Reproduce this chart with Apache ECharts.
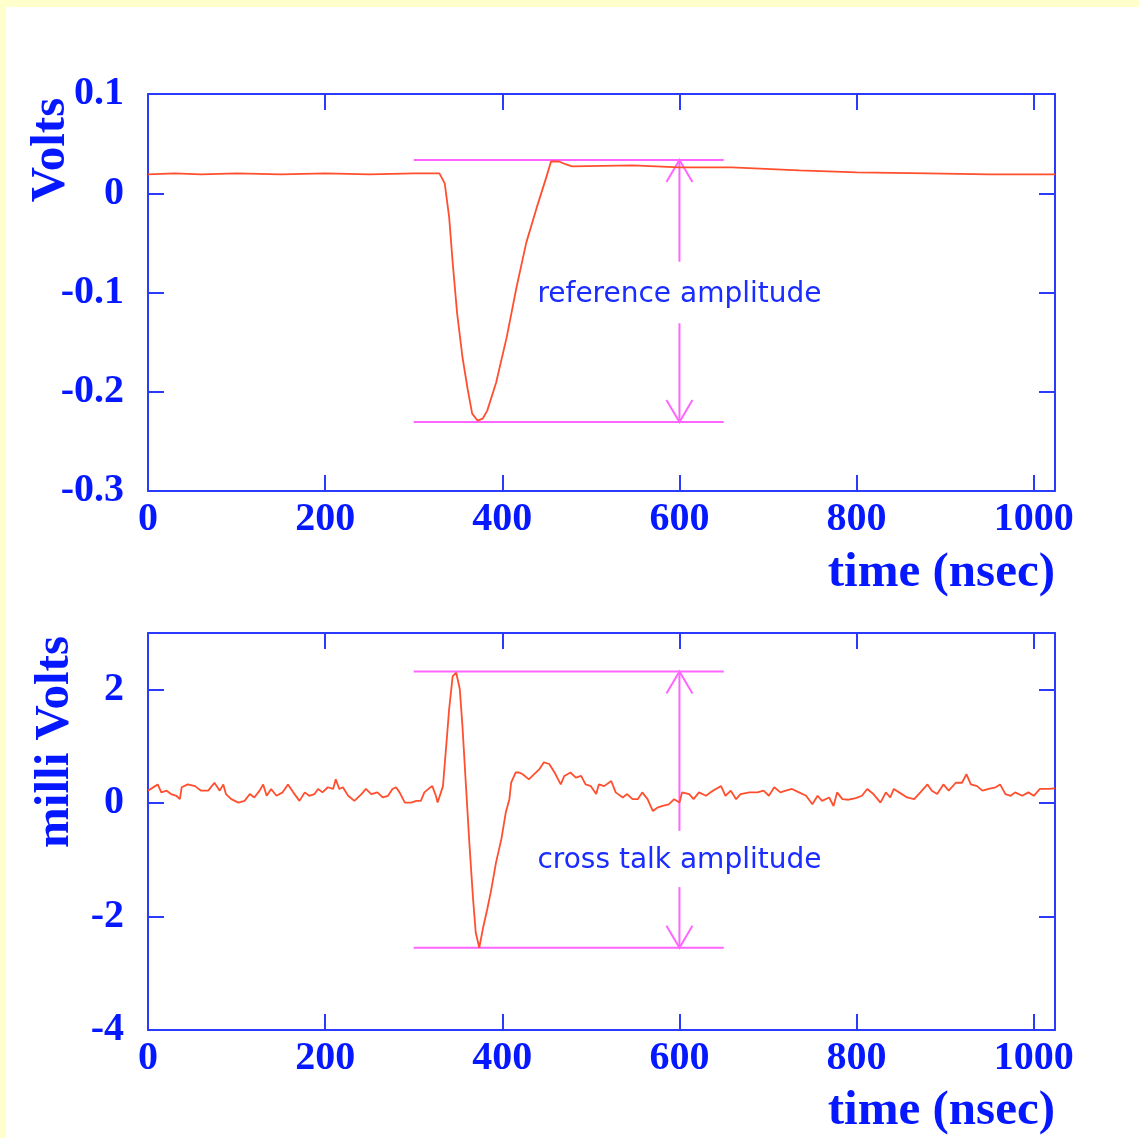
<!DOCTYPE html>
<html>
<head>
<meta charset="utf-8">
<script src="https://cdn.jsdelivr.net/npm/echarts@6/dist/echarts.min.js"></script>
<style>
html,body{margin:0;padding:0;background:#fff}
#chart{width:1139px;height:1138px}
</style>
</head>
<body>
<div id="chart"></div>
<script>
// reference pulse (Volts)
var refTime = [0, 30, 60, 100, 150, 200, 250, 300, 329, 335, 340, 344, 349, 355, 361, 366, 372, 378, 383, 393, 405, 416, 427, 439, 450, 455, 464, 472, 479, 547, 600, 659, 735, 800, 880, 950, 1024]
var refVolts = [0.019, 0.020, 0.019, 0.020, 0.019, 0.020, 0.019, 0.020, 0.020, 0.010, -0.024, -0.070, -0.121, -0.165, -0.198, -0.222, -0.229, -0.227, -0.219, -0.191, -0.145, -0.095, -0.050, -0.014, 0.017, 0.032, 0.032, 0.029, 0.027, 0.028, 0.026, 0.026, 0.023, 0.021, 0.020, 0.019, 0.019]

// cross talk (milli Volts)
var xtTime = [
  0, 8, 11, 15, 21, 26, 32, 36, 38, 45,
  53, 60, 68, 75, 81, 85, 88, 94, 102, 109,
  115, 120, 126, 130, 134, 139, 145, 152, 158, 164,
  171, 177, 182, 188, 192, 197, 203, 209, 212, 216,
  220, 226, 233, 241, 246, 252, 259, 265, 271, 276,
  280, 284, 290, 297, 303, 308, 312, 318, 321, 325,
  327, 333, 337, 340, 344, 348, 352, 355, 359, 363,
  367, 370, 374, 378, 383, 387, 393, 399, 404, 408,
  410, 412, 415, 419, 423, 425, 430, 436, 442, 447,
  453, 459, 466, 470, 477, 483, 489, 494, 500, 506,
  509, 515, 523, 528, 536, 541, 547, 553, 558, 564,
  570, 575, 581, 588, 594, 600, 603, 611, 616, 622,
  630, 635, 641, 647, 652, 658, 664, 669, 679, 688,
  695, 701, 707, 714, 720, 727, 735, 743, 750, 756,
  761, 769, 774, 778, 784, 791, 799, 806, 812, 819,
  827, 833, 838, 842, 848, 857, 865, 872, 880, 885,
  891, 898, 904, 912, 919, 924, 929, 936, 942, 949,
  957, 962, 968, 974, 979, 987, 994, 1000, 1007, 1017,
  1024]
var xtMilliVolts = [
  0.22, 0.30, 0.33, 0.19, 0.22, 0.16, 0.13, 0.07, 0.28, 0.33,
  0.30, 0.22, 0.22, 0.36, 0.22, 0.33, 0.16, 0.07, 0.01, 0.04,
  0.16, 0.10, 0.22, 0.33, 0.13, 0.25, 0.13, 0.19, 0.33, 0.19,
  0.04, 0.19, 0.13, 0.16, 0.25, 0.19, 0.28, 0.25, 0.42, 0.25,
  0.28, 0.13, 0.04, 0.16, 0.25, 0.16, 0.19, 0.10, 0.13, 0.25,
  0.28, 0.19, 0.01, 0.01, 0.04, 0.04, 0.19, 0.27, 0.30, 0.13,
  0.01, 0.30, 1.07, 1.66, 2.24, 2.30, 2.01, 1.36, 0.30, -0.75,
  -1.69, -2.28, -2.55, -2.22, -1.87, -1.57, -1.04, -0.63, -0.16, 0.07,
  0.36, 0.39, 0.54, 0.54, 0.51, 0.51, 0.42, 0.51, 0.60, 0.72,
  0.69, 0.54, 0.33, 0.48, 0.54, 0.45, 0.48, 0.33, 0.30, 0.16,
  0.33, 0.30, 0.39, 0.19, 0.10, 0.16, 0.07, 0.07, 0.19, 0.07,
  -0.14, -0.08, -0.05, -0.02, 0.07, 0.01, 0.19, 0.16, 0.07, 0.19,
  0.13, 0.19, 0.25, 0.30, 0.13, 0.22, 0.07, 0.16, 0.19, 0.19,
  0.22, 0.13, 0.28, 0.19, 0.22, 0.25, 0.19, 0.13, -0.02, 0.13,
  0.04, 0.10, -0.05, 0.19, 0.07, 0.06, 0.09, 0.13, 0.25, 0.16,
  0.01, 0.19, 0.10, 0.25, 0.19, 0.10, 0.07, 0.19, 0.33, 0.22,
  0.16, 0.33, 0.22, 0.36, 0.36, 0.51, 0.33, 0.30, 0.22, 0.25,
  0.28, 0.33, 0.16, 0.13, 0.19, 0.13, 0.19, 0.13, 0.25, 0.25,
  0.26]

// amplitude markers: [x start, x end, arrow x, top level, bottom level, gap top, gap bottom, text y]
var refMark = [300, 650, 600, 0.0336, -0.2305, -0.069, -0.131, -0.102]
var xtMark = [300, 650, 600, 2.32, -2.55, -0.49, -1.48, -1.02]
var markText = ['reference amplitude', 'cross talk amplitude']

var timeMax = 1024
var BLUE = '#0618ff', AXIS = '#2a3aff', CURVE = '#ff4f2e', MAG = '#ff66ff'

function toPairs(xs, ys){
  return xs.map(function(x, i){ return [x, ys[i]] })
}

function xAx(gi, pos){
  return {
    type:'value', gridIndex:gi, position:pos, min:0, max:timeMax, interval:200,
    axisLine:{show:true, onZero:false, lineStyle:{color:AXIS, width:2}},
    axisTick:{show:true, inside:true, length:16, lineStyle:{color:AXIS, width:2}},
    splitLine:{show:false},
    axisLabel:{show: pos === 'bottom', margin:9, color:BLUE, fontFamily:'Liberation Serif', fontWeight:'bold', fontSize:40,
      formatter:function(v){ return v % 200 === 0 ? String(v) : '' }}
  }
}
function yAx(gi, pos, mn, mx, step){
  return {
    type:'value', gridIndex:gi, position:pos, min:mn, max:mx, interval:step,
    axisLine:{show:true, onZero:false, lineStyle:{color:AXIS, width:2}},
    axisTick:{show:true, inside:true, length:16, lineStyle:{color:AXIS, width:2}},
    splitLine:{show:false},
    axisLabel:{show: pos === 'left', margin:24, color:BLUE, fontFamily:'Liberation Serif', fontWeight:'bold', fontSize:40,
      showMaxLabel: mx % step === 0 || Math.abs(mx - 0.1) < 1e-9}
  }
}

function markItem(params, api){
  var top = api.coord([api.value(0), api.value(3)])
  var topEnd = api.coord([api.value(1), api.value(3)])
  var bot = api.coord([api.value(0), api.value(4)])
  var botEnd = api.coord([api.value(1), api.value(4)])
  var aTop = api.coord([api.value(2), api.value(3)])
  var aBot = api.coord([api.value(2), api.value(4)])
  var gHi = api.coord([api.value(2), api.value(5)])
  var gLo = api.coord([api.value(2), api.value(6)])
  var txt = api.coord([api.value(2), api.value(7)])
  var ln = {stroke:MAG, lineWidth:2, fill:null}
  return {
    type:'group',
    children:[
      {type:'line', shape:{x1:top[0], y1:top[1], x2:topEnd[0], y2:topEnd[1]}, style:ln},
      {type:'line', shape:{x1:bot[0], y1:bot[1], x2:botEnd[0], y2:botEnd[1]}, style:ln},
      {type:'line', shape:{x1:aTop[0], y1:aTop[1], x2:gHi[0], y2:gHi[1]}, style:ln},
      {type:'line', shape:{x1:gLo[0], y1:gLo[1], x2:aBot[0], y2:aBot[1]}, style:ln},
      {type:'polyline', shape:{points:[[aTop[0]-13, aTop[1]+22], [aTop[0], aTop[1]], [aTop[0]+13, aTop[1]+22]]}, style:ln},
      {type:'polyline', shape:{points:[[aBot[0]-13, aBot[1]-22], [aBot[0], aBot[1]], [aBot[0]+13, aBot[1]-22]]}, style:ln},
      {type:'text', x:txt[0], y:txt[1], style:{text:markText[params.seriesIndex === 2 ? 0 : 1], fill:'#1a2cff',
        font:'28px "DejaVu Sans", sans-serif', align:'center', verticalAlign:'middle'}}
    ]
  }
}

var myChart = echarts.init(document.getElementById('chart'))
var titleStyle = {fill:BLUE, font:'bold 49px "Liberation Serif", serif'}
var option = {
  backgroundColor:'#ffffff',
  animation:false,
  graphic:[
    {type:'rect', left:0, top:0, shape:{width:1139, height:7}, style:{fill:'#ffffcc'}, silent:true},
    {type:'rect', left:0, top:0, shape:{width:6, height:1138}, style:{fill:'#ffffcc'}, silent:true},
    {type:'text', x:51, y:150, rotation:Math.PI/2, style:Object.assign({text:'Volts', align:'center', verticalAlign:'middle'}, titleStyle)},
    {type:'text', x:55, y:742, rotation:Math.PI/2, style:Object.assign({text:'milli Volts', align:'center', verticalAlign:'middle'}, titleStyle)},
    {type:'text', x:1055, y:573, style:Object.assign({text:'time (nsec)', align:'right', verticalAlign:'middle'}, titleStyle)},
    {type:'text', x:1055, y:1111, style:Object.assign({text:'time (nsec)', align:'right', verticalAlign:'middle'}, titleStyle)}
  ],
  grid:[
    {left:148, top:94, width:907, height:397},
    {left:148, top:633, width:907, height:397}
  ],
  xAxis:[xAx(0,'bottom'), xAx(0,'top'), xAx(1,'bottom'), xAx(1,'top')],
  yAxis:[yAx(0,'left',-0.3,0.1,0.1), yAx(0,'right',-0.3,0.1,0.1), yAx(1,'left',-4,3,2), yAx(1,'right',-4,3,2)],
  series:[
    {type:'line', xAxisIndex:0, yAxisIndex:0, data:toPairs(refTime, refVolts), showSymbol:false,
      lineStyle:{color:CURVE, width:1.8}, z:3},
    {type:'line', xAxisIndex:2, yAxisIndex:2, data:toPairs(xtTime, xtMilliVolts), showSymbol:false,
      lineStyle:{color:CURVE, width:1.8}, z:3},
    {type:'custom', xAxisIndex:0, yAxisIndex:0, data:[refMark], renderItem:markItem, clip:false, z:2},
    {type:'custom', xAxisIndex:2, yAxisIndex:2, data:[xtMark], renderItem:markItem, clip:false, z:2}
  ]
}
myChart.setOption(option)
window.addEventListener('resize', function(){ myChart.resize() })
</script>
</body>
</html>
